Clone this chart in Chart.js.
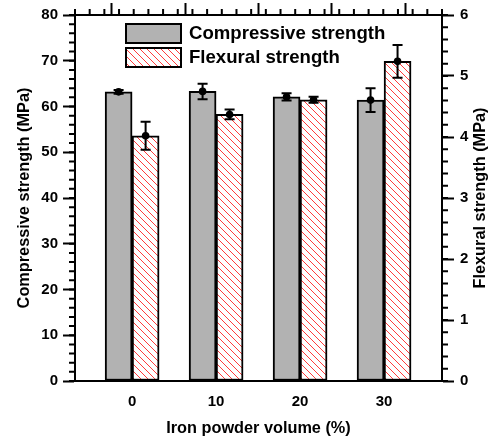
<!DOCTYPE html>
<html>
<head>
<meta charset="utf-8">
<script src="https://cdn.jsdelivr.net/npm/chart.js@4/dist/chart.umd.min.js"></script>
<style>
  html, body { margin: 0; padding: 0; background: #fff; }
</style>
</head>
<body>
<canvas id="myChart" width="491" height="439"></canvas>
<script>
// iron powder volume (%) on the x axis
const volumes = [0, 10, 20, 30];
// compressive strength, MPa (left axis)
const compressive = [63.2, 63.3, 62.1, 61.4];
const compressiveErr = [0.4, 1.7, 0.8, 2.6];
// flexural strength, MPa (right axis)
const flexural = [4.02, 4.37, 4.61, 5.24];
const flexuralErr = [0.23, 0.08, 0.05, 0.27];

const seriesNames = ['Compressive strength', 'Flexural strength'];
const FONT = "'Liberation Sans', Arial, sans-serif";

var canvas = document.getElementById('myChart');
var ctx = canvas.getContext('2d');

// red diagonal hatch on white
function makeHatch() {
  var c = document.createElement('canvas');
  c.width = 7; c.height = 7;
  var g = c.getContext('2d');
  g.fillStyle = '#fff';
  g.fillRect(0, 0, 7, 7);
  g.strokeStyle = '#ff3c3c';
  g.lineWidth = 1;
  g.beginPath();
  g.moveTo(-1, -1); g.lineTo(8, 8);
  g.moveTo(-1, 6); g.lineTo(1, 8);
  g.moveTo(6, -1); g.lineTo(8, 1);
  g.stroke();
  return ctx.createPattern(c, 'repeat');
}
var hatch = makeHatch();

// minor tick steps per axis
var minorStep = { y: 2, y1: 0.2, x2: 0.2 };

function toXY(vals) {
  return vals.map(function(v, i) { return { x: volumes[i], y: v }; });
}

var extras = {
  id: 'extras',
  afterDatasetsDraw: function(chart) {
    var c = chart.ctx;
    var errs = [compressiveErr, flexuralErr];
    var vals = [compressive, flexural];
    c.save();
    c.strokeStyle = '#000';
    c.fillStyle = '#000';
    c.lineWidth = 2;
    for (var d = 0; d < 2; d++) {
      var meta = chart.getDatasetMeta(d);
      var ys = chart.scales[chart.data.datasets[d].yAxisID];
      meta.data.forEach(function(bar, i) {
        var x = bar.x;
        var top = ys.getPixelForValue(vals[d][i] + errs[d][i]);
        var bot = ys.getPixelForValue(vals[d][i] - errs[d][i]);
        var mid = ys.getPixelForValue(vals[d][i]);
        c.beginPath();
        c.moveTo(x, top); c.lineTo(x, bot);
        c.moveTo(x - 5, top); c.lineTo(x + 5, top);
        c.moveTo(x - 5, bot); c.lineTo(x + 5, bot);
        c.stroke();
        c.beginPath();
        c.arc(x, mid, 3.8, 0, Math.PI * 2);
        c.fill();
      });
    }
    c.restore();
  },
  afterDraw: function(chart) {
    var c = chart.ctx;
    c.save();
    c.strokeStyle = '#000';
    c.lineWidth = 2;
    // minor ticks
    Object.keys(minorStep).forEach(function(id) {
      var s = chart.scales[id];
      var step = minorStep[id];
      c.beginPath();
      for (var v = s.min; v <= s.max + 1e-9; v += step) {
        var p = s.getPixelForValue(v);
        if (id === 'y') { c.moveTo(s.right - 6, p); c.lineTo(s.right, p); }
        else if (id === 'y1') { c.moveTo(s.left, p); c.lineTo(s.left + 6, p); }
        else { c.moveTo(p, s.bottom - 6); c.lineTo(p, s.bottom); }
      }
      c.stroke();
    });

    // right axis title, reads bottom to top
    var area = chart.chartArea;
    c.fillStyle = '#000';
    c.font = 'bold 16.3px ' + FONT;
    c.textAlign = 'center';
    c.textBaseline = 'middle';
    c.translate(481, (area.top + area.bottom) / 2);
    c.rotate(-Math.PI / 2);
    c.fillText('Flexural strength (MPa)', 0, 0);
    c.setTransform(1, 0, 0, 1, 0, 0);

    // legend
    var ds = chart.data.datasets;
    var rows = [23, 47];
    c.font = 'bold 18.6px ' + FONT;
    c.textAlign = 'left';
    for (var k = 0; k < ds.length; k++) {
      c.fillStyle = ds[k].backgroundColor;
      c.fillRect(125, rows[k], 57, 21);
      c.strokeRect(126, rows[k] + 1, 55, 19);
      c.fillStyle = '#000';
      c.fillText(ds[k].label, 189, rows[k] + 11);
    }
    c.restore();
  }
};

var tickFont = { family: FONT, size: 15, weight: 'bold' };
var titleFont = { family: FONT, size: 16.3, weight: 'bold' };

var myChart = new Chart(ctx, {
  type: 'bar',
  data: {
    datasets: [{
      label: seriesNames[0],
      data: toXY(compressive),
      yAxisID: 'y',
      xAxisID: 'x',
      backgroundColor: '#b2b2b2',
      borderColor: '#000',
      borderWidth: 2,
      borderSkipped: false,
      barThickness: 27
    }, {
      label: seriesNames[1],
      data: toXY(flexural),
      yAxisID: 'y1',
      xAxisID: 'x',
      backgroundColor: hatch,
      borderColor: '#000',
      borderWidth: 2,
      borderSkipped: false,
      barThickness: 27
    }]
  },
  options: {
    responsive: false,
    animation: false,
    layout: { padding: 0 },
    plugins: { legend: { display: false }, tooltip: { enabled: false } },
    scales: {
      x: {
        type: 'linear',
        position: 'bottom',
        min: -6.8,
        max: 36.9,
        offset: false,
        afterBuildTicks: function(s) { s.ticks = volumes.map(function(v) { return { value: v }; }); },
        afterFit: function(s) { s.height = 58; },
        ticks: { font: tickFont, color: '#000', padding: 12, maxRotation: 0, autoSkip: false },
        grid: { display: true, drawOnChartArea: false, drawTicks: false, offset: false },
        border: { display: true, color: '#000', width: 2 },
        title: { display: true, text: 'Iron powder volume (%)', font: titleFont, color: '#000', padding: { top: 0, bottom: 1 } }
      },
      x2: {
        type: 'linear',
        position: 'top',
        min: 0,
        max: 5,
        offset: false,
        afterFit: function(s) { s.height = 15; },
        ticks: { display: false, stepSize: 1 },
        grid: { drawOnChartArea: false, tickLength: 12, tickWidth: 2, color: '#000' },
        border: { display: true, color: '#000', width: 2 }
      },
      y: {
        position: 'left',
        min: 0,
        max: 80,
        afterFit: function(s) { s.width = 75; },
        ticks: { stepSize: 10, font: tickFont, color: '#000', padding: 5 },
        grid: { drawOnChartArea: false, tickLength: 12, tickWidth: 2, color: '#000' },
        border: { display: true, color: '#000', width: 2 },
        title: { display: true, text: 'Compressive strength (MPa)', font: titleFont, color: '#000', padding: { top: 15, bottom: 0 } }
      },
      y1: {
        position: 'right',
        min: 0,
        max: 6,
        afterFit: function(s) { s.width = 49; },
        ticks: { stepSize: 1, font: tickFont, color: '#000', padding: 6 },
        grid: { drawOnChartArea: false, tickLength: 12, tickWidth: 2, color: '#000' },
        border: { display: true, color: '#000', width: 2 }
      }
    }
  },
  plugins: [extras]
});
</script>
</body>
</html>
